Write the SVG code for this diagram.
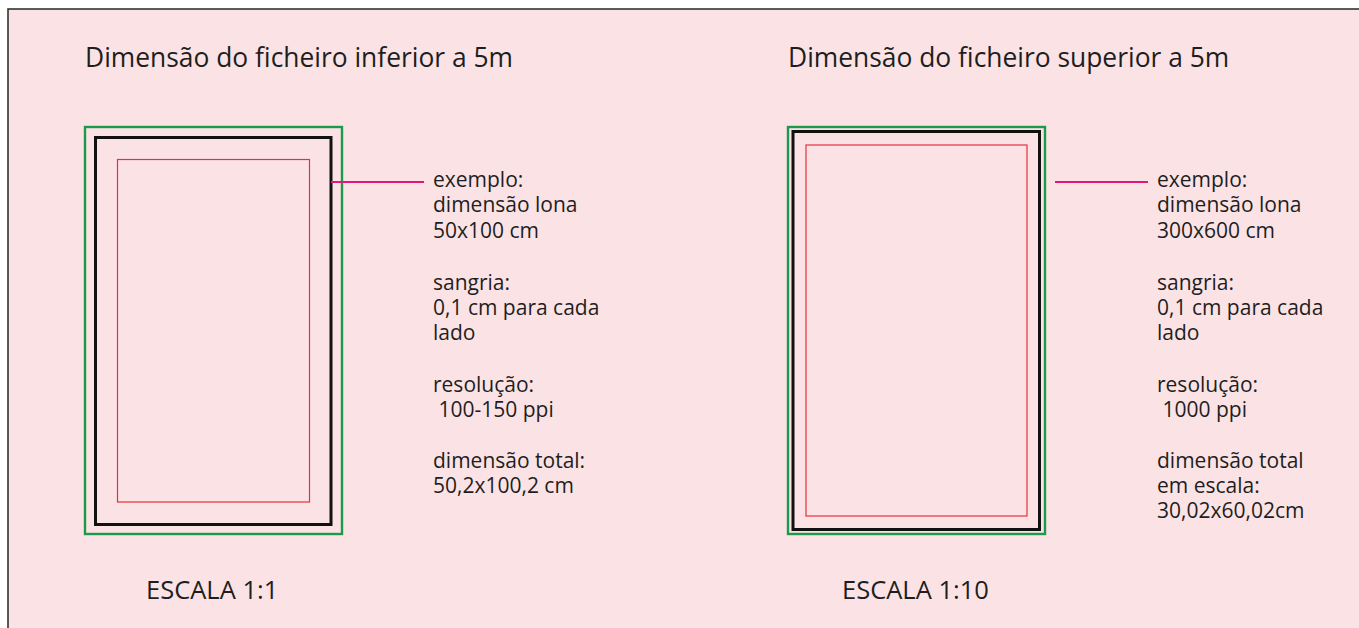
<svg xmlns="http://www.w3.org/2000/svg" width="1359" height="628" viewBox="0 0 1359 628">
<style>
  .t{font-family:"Open Sans","Noto Sans","Liberation Sans",sans-serif;fill:#1e1e1e}
  .h{font-size:26.4px}
  .b{font-size:21px}
  .s{font-size:25.5px}
  .g{fill:none;stroke:#1a9a4a;stroke-width:2.4}
  .k{fill:none;stroke:#111;stroke-width:3}
  .r{fill:none;stroke:#e8303a;stroke-width:1.2}
  .m{stroke:#e6157a;stroke-width:2}
</style>
<rect x="0" y="0" width="1359" height="628" fill="#ffffff"/>
<rect x="8" y="9" width="1400" height="700" fill="#fbe3e5" stroke="#333" stroke-width="1.6"/>
<g id="title-left"><text class="t h" x="85" y="67">Dimensão do ficheiro inferior a 5m</text></g>
<g id="title-right"><text class="t h" x="788" y="67">Dimensão do ficheiro superior a 5m</text></g>
<g id="frame-left">
  <rect class="g" x="85" y="127" width="257" height="407"/>
  <rect class="k" x="95.5" y="137.5" width="235.5" height="387"/>
  <rect class="r" x="117.5" y="159.5" width="192" height="342.5"/>
</g>
<g id="frame-right">
  <rect class="g" x="788" y="127" width="257" height="407"/>
  <rect class="k" x="793" y="131.5" width="246.5" height="398"/>
  <rect class="r" x="806" y="145" width="221" height="371"/>
</g>
<g id="connectors">
  <line class="m" x1="331" y1="182" x2="424" y2="182"/>
  <line class="m" x1="1055" y1="182" x2="1148" y2="182"/>
</g>
<g id="notes-left">
  <text class="t b" x="433" y="187">exemplo:</text>
  <text class="t b" x="433" y="212">dimensão lona</text>
  <text class="t b" x="433" y="238">50x100 cm</text>
  <text class="t b" x="433" y="290">sangria:</text>
  <text class="t b" x="433" y="315">0,1 cm para cada</text>
  <text class="t b" x="433" y="340">lado</text>
  <text class="t b" x="433" y="392">resolução:</text>
  <text class="t b" x="433" y="417" xml:space="preserve"> 100-150 ppi</text>
  <text class="t b" x="433" y="468">dimensão total:</text>
  <text class="t b" x="433" y="493">50,2x100,2 cm</text>
</g>
<g id="notes-right">
  <text class="t b" x="1157" y="187">exemplo:</text>
  <text class="t b" x="1157" y="212">dimensão lona</text>
  <text class="t b" x="1157" y="238">300x600 cm</text>
  <text class="t b" x="1157" y="290">sangria:</text>
  <text class="t b" x="1157" y="315">0,1 cm para cada</text>
  <text class="t b" x="1157" y="340">lado</text>
  <text class="t b" x="1157" y="392">resolução:</text>
  <text class="t b" x="1157" y="417" xml:space="preserve"> 1000 ppi</text>
  <text class="t b" x="1157" y="468">dimensão total</text>
  <text class="t b" x="1157" y="493">em escala:</text>
  <text class="t b" x="1157" y="518">30,02x60,02cm</text>
</g>
<g id="scale-left"><text class="t s" x="146" y="599">ESCALA 1:1</text></g>
<g id="scale-right"><text class="t s" x="842" y="599">ESCALA 1:10</text></g>
</svg>
